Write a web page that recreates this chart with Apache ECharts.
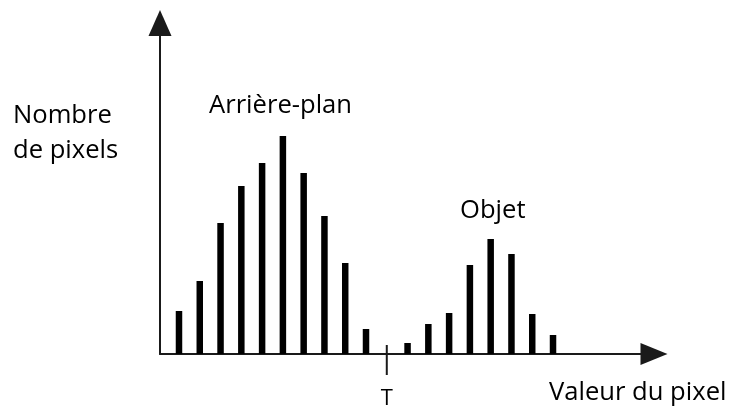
<!DOCTYPE html>
<html>
<head>
<meta charset="utf-8">
<script src="https://cdn.jsdelivr.net/npm/echarts@6/dist/echarts.min.js"></script>
<style>
  html, body { margin: 0; padding: 0; background: #fff; }
  #main { width: 730px; height: 408px; }
</style>
</head>
<body>
<div id="main"></div>
<script>
// histogram bins (pixel value index) and pixel counts
var bins = [0, 1, 2, 3, 4, 5, 6, 7, 8, 9, 10, 11, 12, 13, 14, 15, 16, 17, 18];
var counts = [43, 73, 131, 168, 191, 218, 181, 138, 91, 25, '-', 11, 30, 41, 89, 115, 100, 40, 19];
// threshold position and its label
var thresholdBin = 10;
var thresholdLabel = 'T';

var font = '"Open Sans", "Noto Sans", sans-serif';
var textSize = '25.6px ';

var chart = echarts.init(document.getElementById('main'));

var barData = [];
for (var i = 0; i < bins.length; i++) {
    barData.push([bins[i], counts[i]]);
}

var option = {
    animation: false,
    backgroundColor: '#fff',
    grid: { left: 160, right: 76, top: 23, bottom: 54 },
    xAxis: {
        type: 'value',
        min: -0.914,
        max: 22.86,
        axisLine: {
            show: true,
            onZero: false,
            symbol: ['none', 'triangle'],
            symbolSize: [22, 27],
            lineStyle: { color: '#1a1a1a', width: 2 }
        },
        axisTick: { show: false },
        axisLabel: { show: false },
        splitLine: { show: false }
    },
    yAxis: {
        type: 'value',
        min: 0,
        max: 331,
        axisLine: {
            show: true,
            onZero: false,
            symbol: ['none', 'triangle'],
            symbolSize: [23, 26],
            lineStyle: { color: '#1a1a1a', width: 2 }
        },
        axisTick: { show: false },
        axisLabel: { show: false },
        splitLine: { show: false }
    },
    series: [
        {
            type: 'bar',
            data: barData,
            barWidth: 6.5,
            itemStyle: { color: '#000' }
        },
        {
            type: 'scatter',
            data: [[thresholdBin, 0]],
            symbol: 'rect',
            symbolSize: [2, 30],
            symbolOffset: [0, 6],
            itemStyle: { color: '#1a1a1a', opacity: 1 },
            label: {
                show: true,
                position: 'bottom',
                distance: 13,
                formatter: thresholdLabel,
                color: '#000',
                opacity: 1,
                fontFamily: font,
                fontSize: 22
            },
            z: 3
        }
    ],
    graphic: [
        {
            type: 'text',
            left: 13,
            top: 98,
            style: {
                text: 'Nombre\nde pixels',
                font: textSize + font,
                lineHeight: 35,
                fill: '#000'
            }
        },
        {
            type: 'text',
            left: 209,
            top: 93,
            style: { text: 'Arrière-plan', font: textSize + font, fill: '#000' }
        },
        {
            type: 'text',
            left: 460,
            top: 198,
            style: { text: 'Objet', font: textSize + font, fill: '#000' }
        },
        {
            type: 'text',
            left: 549,
            top: 380,
            style: { text: 'Valeur du pixel', font: textSize + font, fill: '#000' }
        }
    ]
};

if (option && option.series) {
    chart.setOption(option);
}
</script>
</body>
</html>
